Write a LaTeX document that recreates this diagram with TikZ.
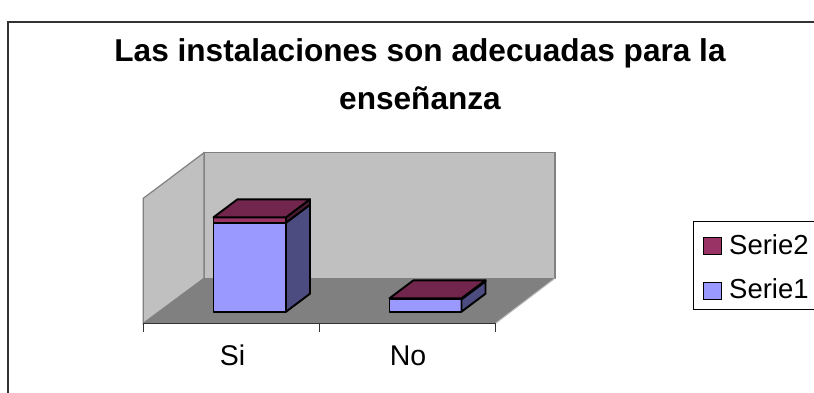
\documentclass[tikz,border=0pt]{standalone}
\usepackage{fontspec}
\setmainfont{Liberation Sans}
\usetikzlibrary{positioning}
\definecolor{serieone}{RGB}{153,153,255}
\definecolor{serieoneside}{RGB}{76,76,128}
\definecolor{serietwo}{RGB}{153,51,102}
\definecolor{serietwotop}{RGB}{114,38,77}
\definecolor{serietwoside}{RGB}{76,25,51}
\definecolor{wallgray}{RGB}{192,192,192}
\definecolor{floorgray}{RGB}{128,128,128}
\tikzset{
  wall/.style = {fill=wallgray, draw=floorgray, line width=1.2pt},
  barface/.style = {draw=black, line width=1.9pt, line join=round},
  swatch/.style = {draw=black, line width=0.9pt, minimum width=18pt, minimum height=17pt, inner sep=0pt},
  legtext/.style = {font=\fontsize{27.5}{30}\selectfont, inner sep=0pt}
}

\begin{document}
\begin{tikzpicture}[x=1pt, y=-1pt]
\useasboundingbox (0,0) rectangle (814,392);
% outer frame, cut off at right and bottom
\draw[line width=1.3pt, black!80] (8,22) rectangle (840,420);

\node[font=\fontsize{31.6}{48.3}\selectfont\bfseries, align=center, inner sep=0pt] (title) at (420,74.4)
  {Las instalaciones son adecuadas para la\\enseñanza};

% walls and floor
\draw[wall] (204,152.7) rectangle (555,278.3);
\draw[wall] (143.3,323.3) -- (143.3,198.3) -- (204,152.7) -- (204,278.3) -- cycle;
\fill[floorgray] (143.3,323.3) -- (204,278.3) -- (555,278.3) -- (495.7,323.3) -- cycle;
\draw[wallgray, line width=1pt] (495.7,323.3) -- (555,278.3);
\draw[black!80, line width=1.2pt] (143.3,323.3) -- (495.7,323.3);
\foreach \tx in {143.3, 319.5, 495.7}
  \draw[black!80, line width=1pt] (\tx,323.3) -- (\tx,331.7);

% bars: left, right, top of Serie1, top of Serie2
\foreach \lx/\rx/\ta/\tb in {213.5/286/222.7/217.3, 389.5/461.5/299.3/298.3} {
  \draw[barface, fill=serieone] (\lx,311.7) rectangle (\rx,\ta);
  \draw[barface, fill=serieoneside] (\rx,311.7) -- (\rx+24,311.7-18) -- (\rx+24,\ta-18) -- (\rx,\ta) -- cycle;
  \draw[barface, fill=serietwo] (\lx,\ta) rectangle (\rx,\tb);
  \draw[barface, fill=serietwoside] (\rx,\ta) -- (\rx+24,\ta-18) -- (\rx+24,\tb-18) -- (\rx,\tb) -- cycle;
  \draw[barface, fill=serietwotop] (\lx,\tb) -- (\lx+24,\tb-18) -- (\rx+24,\tb-18) -- (\rx,\tb) -- cycle;
}

\node[font=\fontsize{28.5}{32}\selectfont, anchor=base, inner sep=0pt] (si) at (232.5,365.5) {Si};
\node[font=\fontsize{28.5}{32}\selectfont, anchor=base, inner sep=0pt] (no) at (408,365.5) {No};

% legend
\draw[black, line width=1pt] (693.3,221) rectangle (840,309.3);
\node[swatch, fill=serietwo] (swtwo) at (712,246) {};
\node[swatch, fill=serieone] (swone) at (712,290.5) {};
\node[legtext, anchor=base west] (legtwo) at (729,254) {Serie2};
\node[legtext, anchor=base west] (legone) at (729,298.3) {Serie1};
\end{tikzpicture}
\end{document}
